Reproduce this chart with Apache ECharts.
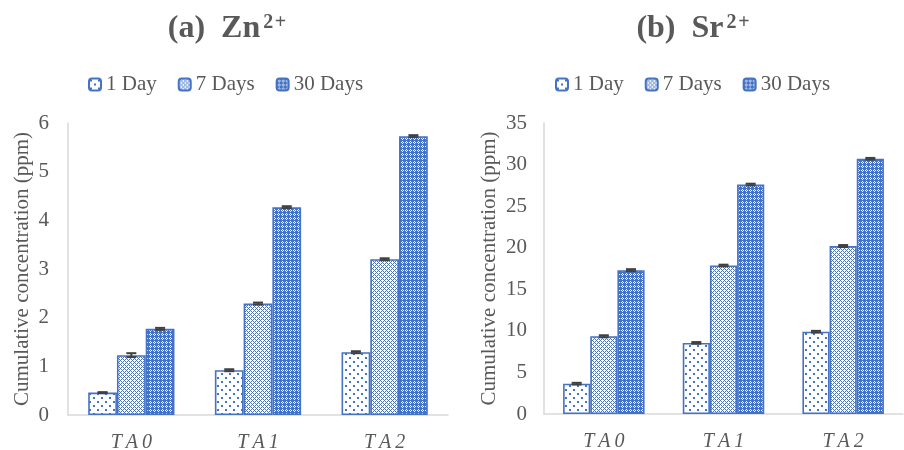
<!DOCTYPE html>
<html>
<head>
<meta charset="utf-8">
<script src="https://cdn.jsdelivr.net/npm/echarts@6/dist/echarts.min.js"></script>
<style>html,body{margin:0;padding:0;background:#fff}#c{width:904px;height:450px}</style>
</head>
<body>
<div id="c"></div>
<script>
// ---- data ----
const categories = ['TA0', 'TA1', 'TA2'];
const seriesNames = ['1 Day', '7 Days', '30 Days'];
const znDay1 = [0.46, 0.92, 1.29];
const znDay7 = [1.23, 2.29, 3.20];
const znDay30 = [1.77, 4.27, 5.73];
const znErr1 = [0.01, 0.02, 0.02];
const znErr7 = [0.04, 0.02, 0.02];
const znErr30 = [0.02, 0.02, 0.02];
const srDay1 = [3.65, 8.55, 9.90];
const srDay7 = [9.35, 17.86, 20.20];
const srDay30 = [17.30, 27.60, 30.70];
const srErr1 = [0.10, 0.10, 0.10];
const srErr7 = [0.12, 0.10, 0.12];
const srErr30 = [0.12, 0.10, 0.10];
const znAxis = { min: 0, max: 6, interval: 1 };
const srAxis = { min: 0, max: 35, interval: 5 };

// ---- patterns ----
const BLUE = [68, 114, 196];
function pattern(rows) {
  const h = rows.length, w = rows[0].length;
  const c = document.createElement('canvas');
  c.width = w; c.height = h;
  const ctx = c.getContext('2d');
  const img = ctx.createImageData(w, h);
  for (let y = 0; y < h; y++) for (let x = 0; x < w; x++) {
    const i = (y * w + x) * 4;
    const b = rows[y][x] === '1';
    img.data[i] = b ? BLUE[0] : 255;
    img.data[i + 1] = b ? BLUE[1] : 255;
    img.data[i + 2] = b ? BLUE[2] : 255;
    img.data[i + 3] = 255;
  }
  ctx.putImageData(img, 0, 0);
  return { image: c, repeat: 'repeat' };
}
const pat1 = pattern([
  '00000000',
  '01100000',
  '01100000',
  '00000000',
  '00000000',
  '00000110',
  '00000110',
  '00000000'
]);
const pat7 = pattern([
  '1000',
  '0101',
  '0010',
  '0101'
]);
const pat30 = pattern([
  '1111',
  '1101',
  '1010',
  '1101'
]);
const patterns = [pat1, pat7, pat30];

const TXT = '#595959';
const FONT = '"Liberation Serif", "Times New Roman", serif';
const BAR_W = 0.227;

function barSeries(name, data, k, gi) {
  return {
    type: 'bar', name: name, data: data,
    xAxisIndex: gi, yAxisIndex: gi,
    barWidth: (BAR_W * 100) + '%', barGap: '0%',
    itemStyle: { color: patterns[k], borderColor: '#4472C4', borderWidth: 1.6 },
    emphasis: { disabled: true },
    animation: false
  };
}
function errSeries(vals, errs, k, gi) {
  return {
    type: 'custom', xAxisIndex: gi, yAxisIndex: gi, z: 5, animation: false,
    silent: true,
    data: vals.map((v, i) => [i, v, errs[i]]),
    renderItem: function (params, api) {
      const ci = api.value(0), v = api.value(1), e = api.value(2);
      const band = api.size([1, 0])[0];
      const off = (k - 1) * band * BAR_W;
      const top = api.coord([ci, v + e]);
      const bot = api.coord([ci, v - e]);
      const x = top[0] + off;
      const hw = 5;
      const st = { stroke: '#404040', lineWidth: 2 };
      return { type: 'group', children: [
        { type: 'line', shape: { x1: x, y1: top[1], x2: x, y2: bot[1] }, style: st },
        { type: 'line', shape: { x1: x - hw, y1: top[1], x2: x + hw, y2: top[1] }, style: st },
        { type: 'line', shape: { x1: x - hw, y1: bot[1], x2: x + hw, y2: bot[1] }, style: st }
      ] };
    }
  };
}

function xAxisCfg(gi) {
  return {
    type: 'category', gridIndex: gi, data: categories,
    axisLine: { lineStyle: { color: '#d9d9d9', width: 1.5 } },
    axisTick: { show: false },
    axisLabel: { color: TXT, fontFamily: FONT, fontSize: 20, fontStyle: 'italic', margin: 18,
      formatter: v => v.split('').join('\u2009') }
  };
}
function yAxisCfg(gi, ax, gap, lmargin) {
  return {
    type: 'value', gridIndex: gi, min: ax.min, max: ax.max, interval: ax.interval,
    name: 'Cumulative concentration (ppm)', nameLocation: 'middle', nameGap: gap,
    nameTextStyle: { color: TXT, fontFamily: FONT, fontSize: 21 },
    axisLine: { show: true, lineStyle: { color: '#d9d9d9', width: 1.5 } },
    axisTick: { show: false },
    splitLine: { show: false },
    axisLabel: { color: TXT, fontFamily: FONT, fontSize: 21, margin: lmargin }
  };
}
function titleCfg(main, centerX) {
  return {
    text: '{a|' + main + '}{b|2\u200a+}',
    left: centerX, top: 8, textAlign: 'center',
    textStyle: {
      rich: {
        a: { fontFamily: FONT, fontSize: 32, fontWeight: 'bold', color: TXT },
        b: { fontFamily: FONT, fontSize: 20, fontWeight: 'bold', color: TXT, verticalAlign: 'top', padding: [0, 0, 0, 3] }
      }
    }
  };
}
function legendCfg(left) {
  return {
    left: left, top: 69, itemWidth: 12, itemHeight: 12, itemGap: 21,
    data: seriesNames,
    textStyle: { color: TXT, fontFamily: FONT, fontSize: 21 },
    selectedMode: false
  };
}

const chart = echarts.init(document.getElementById('c'), null, { renderer: 'canvas' });
chart.setOption({
  backgroundColor: '#ffffff',
  animation: false,
  title: [titleCfg('(a)  Zn', 222), titleCfg('(b)  Sr', 688)],
  legend: [legendCfg(83), legendCfg(550)],
  grid: [
    { left: 68, right: 456, top: 123, bottom: 35, outerBoundsMode: 'none', containLabel: false },
    { left: 544, right: 1, top: 123, bottom: 36, outerBoundsMode: 'none', containLabel: false }
  ],
  xAxis: [xAxisCfg(0), xAxisCfg(1)],
  yAxis: [yAxisCfg(0, znAxis, 35, 19), yAxisCfg(1, srAxis, 44, 17)],
  series: [
    barSeries(seriesNames[0], znDay1, 0, 0),
    barSeries(seriesNames[1], znDay7, 1, 0),
    barSeries(seriesNames[2], znDay30, 2, 0),
    barSeries(seriesNames[0], srDay1, 0, 1),
    barSeries(seriesNames[1], srDay7, 1, 1),
    barSeries(seriesNames[2], srDay30, 2, 1),
    errSeries(znDay1, znErr1, 0, 0),
    errSeries(znDay7, znErr7, 1, 0),
    errSeries(znDay30, znErr30, 2, 0),
    errSeries(srDay1, srErr1, 0, 1),
    errSeries(srDay7, srErr7, 1, 1),
    errSeries(srDay30, srErr30, 2, 1)
  ]
});
</script>
</body>
</html>
